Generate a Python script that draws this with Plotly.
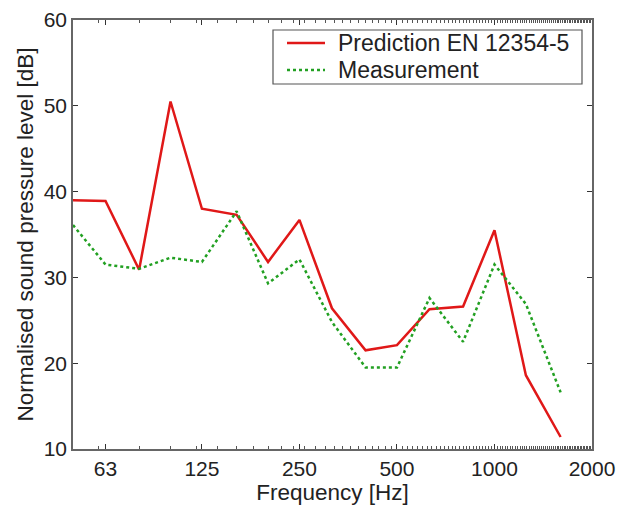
import plotly.graph_objects as go

freq = [50, 63, 80, 100, 125, 160, 200, 250, 315, 400, 500, 630, 800, 1000, 1250, 1600]
prediction = [39.0, 38.9, 30.9, 50.5, 38.0, 37.3, 31.8, 36.7, 26.4, 21.5, 22.1, 26.3, 26.6, 35.5, 18.6, 11.4]
measurement = [36.1, 31.5, 31.0, 32.3, 31.8, 37.7, 29.3, 32.1, 24.8, 19.5, 19.5, 27.6, 22.5, 31.5, 26.9, 16.6]
series_names = ["Prediction EN 12354-5", "Measurement"]
xtick_vals = [63, 125, 250, 500, 1000, 2000]
xtick_text = ["63", "125", "250", "500", "1000", "2000"]

RED = "#e01818"
GREEN = "#22a022"

fig = go.Figure()
fig.add_trace(go.Scatter(x=freq, y=prediction, mode="lines", name=series_names[0],
                         line=dict(color=RED, width=2.5), showlegend=False))
fig.add_trace(go.Scatter(x=freq, y=measurement, mode="lines", name=series_names[1],
                         line=dict(color=GREEN, width=2.5, dash="dot"), showlegend=False))

# legend drawn in paper coordinates (box, line samples, labels)
W, H = 629, 506
L, R, T, B = 73, 37, 20, 57
pw, ph = W - L - R, H - T - B
px = lambda v: (v - L) / pw
py = lambda v: (H - B - v) / ph

fig.add_shape(type="rect", xref="paper", yref="paper",
              x0=px(273), x1=px(582), y0=py(84), y1=py(30),
              line=dict(color="#555", width=1.2), fillcolor="white", layer="above")
rows = [43, 70]
styles = [dict(color=RED, width=2.5), dict(color=GREEN, width=2.5, dash="dot")]
for name, row, st in zip(series_names, rows, styles):
    fig.add_shape(type="line", xref="paper", yref="paper",
                  x0=px(287), x1=px(325), y0=py(row), y1=py(row), line=st, layer="above")
    fig.add_annotation(xref="paper", yref="paper", x=px(336), y=py(row),
                       xanchor="left", yanchor="middle", text=name, showarrow=False,
                       font=dict(size=23, color="#222"))

fig.update_layout(
    width=W, height=H,
    margin=dict(l=L, r=R, t=T, b=B),
    paper_bgcolor="white", plot_bgcolor="white",
    font=dict(family="Liberation Sans, Arial, sans-serif", color="#222", size=21),
    showlegend=False,
)
fig.update_xaxes(
    type="log", range=[1.69897, 3.30103], automargin=False,
    tickvals=xtick_vals, ticktext=xtick_text,
    ticks="inside", ticklen=5, tickcolor="#333",
    showline=True, linecolor="#666", linewidth=1.5, mirror="ticks",
    showgrid=False, zeroline=False,
    minor=dict(ticks="inside", ticklen=3, tickcolor="#555", showgrid=False),
    title=dict(text="Frequency [Hz]", standoff=2, font=dict(size=22.5)),
    tickfont=dict(size=21),
)
fig.update_yaxes(
    range=[10, 60], dtick=10, automargin=False,
    ticks="inside", ticklen=5, tickcolor="#333",
    showline=True, linecolor="#666", linewidth=1.5, mirror="ticks",
    showgrid=False, zeroline=False,
    title=dict(text="Normalised sound pressure level [dB]", standoff=4, font=dict(size=22.5)),
    tickfont=dict(size=21),
)

fig.write_html("out.html", config={"displayModeBar": False},
               post_script="document.body.style.margin='0';document.body.style.padding='0';")
